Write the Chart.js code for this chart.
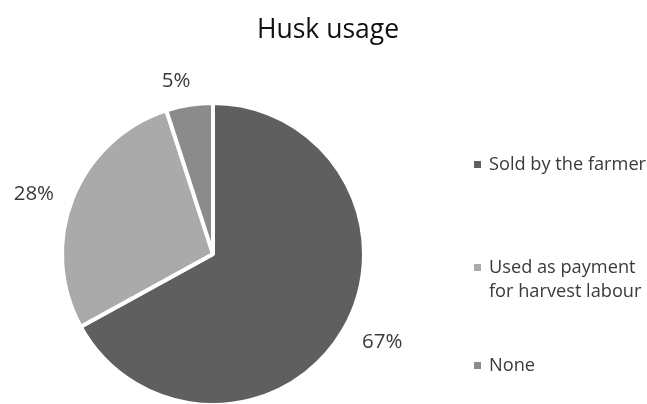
<!DOCTYPE html>
<html>
<head>
<meta charset="utf-8">
<script src="https://cdn.jsdelivr.net/npm/chart.js@4"></script>
<style>
  html, body { margin: 0; padding: 0; background: #fff; }
  #wrap { width: 647px; height: 404px; position: relative; }
</style>
</head>
<body>
<div id="wrap"><canvas id="chart" width="647" height="404"></canvas></div>
<script>
// Husk usage shares
const categories = ['Sold by the farmer', 'Used as payment\nfor harvest labour', 'None'];
const values = [67, 28, 5];
const sliceColors = ['#5f5f5f', '#aaaaaa', '#8b8b8b'];
const chartTitle = 'Husk usage';

const FONT = '"Open Sans", "Noto Sans", sans-serif';
// how far outside the rim each percentage sits
const labelGap = [40, 38, 26];

// title, percentage labels and the side legend
const decorations = {
    id: 'decorations',
    afterDraw(chart) {
        const ctx = chart.ctx;
        ctx.save();

        ctx.fillStyle = '#111111';
        ctx.font = '26.5px ' + FONT;
        ctx.textAlign = 'center';
        ctx.textBaseline = 'middle';
        ctx.fillText(chartTitle, 328, 30);

        // value labels outside each slice
        const meta = chart.getDatasetMeta(0);
        ctx.fillStyle = '#3a3a3a';
        ctx.font = '20.5px ' + FONT;
        meta.data.forEach((arc, i) => {
            const mid = (arc.startAngle + arc.endAngle) / 2 - 3 * Math.PI / 180;
            const r = arc.outerRadius + labelGap[i];
            const x = arc.x + Math.cos(mid) * r;
            const y = arc.y + Math.sin(mid) * r;
            ctx.fillText(values[i] + '%', x, y);
        });

        // legend
        const rows = [165, 268, 366];
        ctx.font = '18.2px ' + FONT;
        ctx.textAlign = 'left';
        categories.forEach((name, i) => {
            const y = rows[i];
            ctx.fillStyle = sliceColors[i];
            ctx.fillRect(474, y - 4, 7, 7);
            ctx.fillStyle = '#3a3a3a';
            name.split('\n').forEach((line, j) => {
                ctx.fillText(line, 489, y + j * 24);
            });
        });
        ctx.restore();
    }
};

new Chart(document.getElementById('chart'), {
    type: 'pie',
    data: {
        labels: categories,
        datasets: [{
            data: values,
            backgroundColor: sliceColors,
            borderColor: '#ffffff',
            borderWidth: 4,
            hoverOffset: 0,
            radius: 151
        }]
    },
    options: {
        responsive: false,
        animation: false,
        layout: { padding: { left: 62, right: 283, top: 104, bottom: 0 } },
        plugins: {
            legend: { display: false },
            title: { display: false },
            tooltip: { enabled: false }
        }
    },
    plugins: [decorations]
});
</script>
</body>
</html>
